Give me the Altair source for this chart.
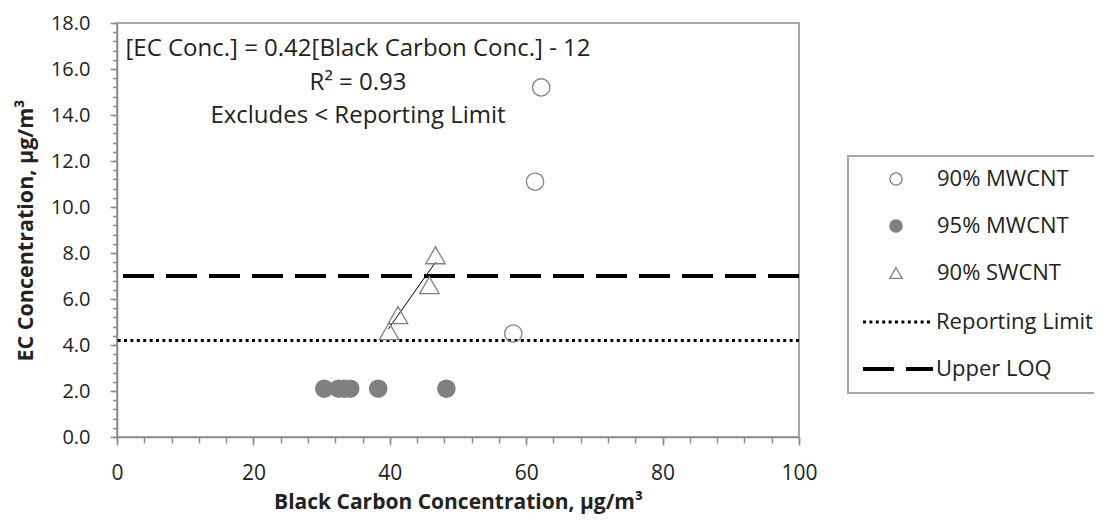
import altair as alt
import pandas as pd

# ---- data ----
series_names = ["90% MWCNT", "95% MWCNT", "90% SWCNT"]
mw90_x = [62.2, 61.3, 58.1]
mw90_y = [15.2, 11.1, 4.5]
mw95_x = [30.4, 32.5, 33.4, 34.2, 38.3, 48.3]
mw95_y = [2.1, 2.1, 2.1, 2.1, 2.1, 2.1]
sw90_x = [39.9, 41.2, 45.8, 46.7]
sw90_y = [4.6, 5.3, 6.6, 7.9]

limit_names = ["Reporting Limit", "Upper LOQ"]
limit_values = [4.2, 7.0]

fit_x = [39.8, 46.7]
fit_y = [4.7, 7.6]

x_major = [0, 20, 40, 60, 80, 100]
x_minor = [0, 4, 8, 12, 16, 20, 24, 28, 32, 36, 40, 44, 48, 52, 56, 60, 64, 68, 72, 76, 80, 84, 88, 92, 96, 100]
y_major = [0, 2, 4, 6, 8, 10, 12, 14, 16, 18]
y_minor = [round(i * 0.4, 1) for i in range(46)]

annotation_lines = ["[EC Conc.] = 0.42[Black Carbon Conc.] - 12", "R\u00b2 = 0.93", "Excludes < Reporting Limit"]
x_title = "Black Carbon Concentration, \u00b5g/m\u00b3"
y_title = "EC Concentration, \u00b5g/m\u00b3"

FONT = "Open Sans"
TXT = "#222222"
AX = "#8c8c8c"
GRAY = "#808080"

pts = pd.DataFrame({
    "x": mw90_x + mw95_x + sw90_x,
    "y": mw90_y + mw95_y + sw90_y,
    "series": [series_names[0]] * len(mw90_x) + [series_names[1]] * len(mw95_x) + [series_names[2]] * len(sw90_x),
})
lims = pd.DataFrame({"name": limit_names, "y": limit_values})
fit = pd.DataFrame({"x": fit_x, "y": fit_y})

xscale = alt.Scale(domain=[0, 100], nice=False, zero=False)
yscale = alt.Scale(domain=[0, 18], nice=False, zero=False)

x_axis = alt.Axis(
    orient="bottom", values=x_major, format="d", grid=False, title=x_title,
    labelOverlap=False, labelFlush=False, tickSize=8,
    tickColor=AX, domainColor=AX, domainWidth=1.5, tickWidth=1.5,
    labelFont=FONT, labelFontSize=21, labelColor=TXT, labelPadding=17,
    titleFont=FONT, titleFontSize=21, titleFontWeight="bold", titleColor=TXT,
    titleY=71, titleBaseline="alphabetic",
)
y_axis = alt.Axis(
    orient="left", values=y_major, format=".1f", grid=False, title=y_title,
    labelOverlap=False, labelFlush=False, tickSize=7,
    tickColor=AX, domainColor=AX, domainWidth=1.5, tickWidth=1.5,
    labelFont=FONT, labelFontSize=20, labelColor=TXT, labelPadding=20,
    titleFont=FONT, titleFontSize=21.5, titleFontWeight="bold", titleColor=TXT,
    titleX=-85, titleY=207, titleBaseline="alphabetic", titleAngle=-90, titleAlign="center",
)
x_axis_minor = alt.Axis(
    orient="bottom", values=x_minor, labels=False, grid=False, title=None, domain=False,
    tickSize=6, tickColor=AX, tickWidth=1.5,
)
y_axis_minor = alt.Axis(
    orient="left", values=y_minor, labels=False, grid=False, title=None, domain=False,
    tickSize=4.5, tickColor=AX, tickWidth=1.5,
)

pt_legend = alt.Legend(
    title=None, orient="none", legendX=768, legendY=145, padding=0,
    symbolSize=150, symbolStrokeWidth=1.3, labelOffset=30, rowPadding=25,
    labelFont=FONT, labelFontSize=22, labelColor=TXT,
)
ln_legend = alt.Legend(
    title=None, orient="none", legendX=770, legendY=288, padding=0,
    symbolSize=196, symbolType="M-5,0H5", symbolStrokeColor="black", labelOffset=27, rowPadding=25,
    labelFont=FONT, labelFontSize=22, labelColor=TXT,
)

shape_enc = alt.Shape("series:N", scale=alt.Scale(domain=series_names, range=["circle", "circle", "triangle-up"]), legend=pt_legend)
fill_enc = alt.Fill("series:N", scale=alt.Scale(domain=series_names, range=["transparent", GRAY, "transparent"]), legend=pt_legend)
stroke_enc = alt.Stroke("series:N", scale=alt.Scale(domain=series_names, range=[GRAY, GRAY, GRAY]), legend=pt_legend)

lines = alt.Chart(lims).mark_rule(color="black").encode(
    y=alt.Y("y:Q", scale=yscale, axis=None),
    strokeDash=alt.StrokeDash("name:N", scale=alt.Scale(domain=limit_names, range=[[3, 3.4], [31, 12]]), legend=ln_legend),
    strokeWidth=alt.StrokeWidth("name:N", scale=alt.Scale(domain=limit_names, range=[3, 4]), legend=ln_legend),
)

fitline = alt.Chart(fit).mark_line(color="black", strokeWidth=1).encode(
    x=alt.X("x:Q", scale=xscale, axis=None),
    y=alt.Y("y:Q", scale=yscale, axis=None),
)

minor = alt.Chart(pts).mark_point(opacity=0).encode(
    x=alt.X("x:Q", scale=xscale, axis=x_axis_minor),
    y=alt.Y("y:Q", scale=yscale, axis=y_axis_minor),
)

circles = alt.Chart(pts).transform_filter(
    alt.FieldOneOfPredicate(field="series", oneOf=series_names[:2])
).mark_point(size=300, strokeWidth=1.3, opacity=1).encode(
    x=alt.X("x:Q", scale=xscale, axis=x_axis),
    y=alt.Y("y:Q", scale=yscale, axis=y_axis),
    shape=shape_enc, fill=fill_enc, stroke=stroke_enc,
)

triangles = alt.Chart(pts).transform_filter(
    alt.FieldEqualPredicate(field="series", equal=series_names[2])
).mark_point(size=380, strokeWidth=1.3, opacity=1).encode(
    x=alt.X("x:Q", scale=xscale, axis=None),
    y=alt.Y("y:Q", scale=yscale, axis=None),
    shape=shape_enc, fill=fill_enc, stroke=stroke_enc,
)

ann = pd.DataFrame({"t": annotation_lines, "i": [0, 1, 2]})
texts = []
for i, yy in enumerate([26, 60, 93]):
    texts.append(
        alt.Chart(ann).transform_filter(f"datum.i == {i}").mark_text(
            font=FONT, fontSize=24, color=TXT, align="center", baseline="middle"
        ).encode(text="t:N", x=alt.value(241), y=alt.value(yy))
    )

box = alt.Chart(pd.DataFrame({"a": [0]})).mark_rect(
    fill="transparent", stroke="#a6a6a6", strokeWidth=2
).encode(x=alt.value(731), x2=alt.value(1010), y=alt.value(133), y2=alt.value(370))

chart = alt.layer(minor, lines, fitline, circles, triangles, *texts, box).resolve_axis(
    x="independent", y="independent"
).properties(
    width=682, height=414,
    autosize=alt.AutoSizeParams(type="none"),
    padding={"left": 109, "top": 15, "right": 295, "bottom": 79},
).configure_view(stroke=AX, strokeWidth=1.5)

chart.save("out.html", embed_options={"renderer": "svg", "actions": False})
